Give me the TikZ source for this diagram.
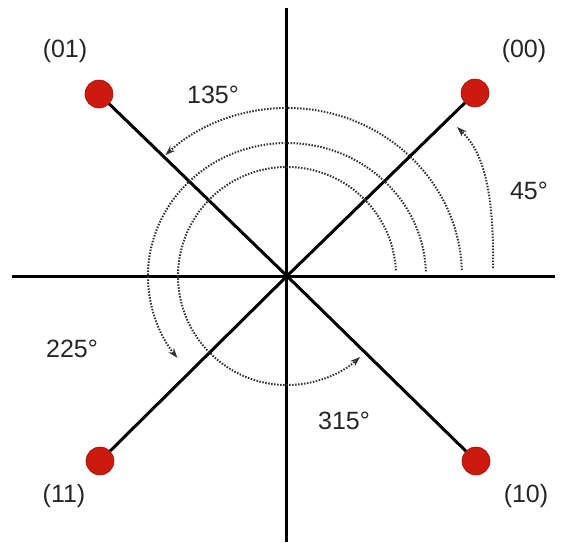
\documentclass[tikz,border=0pt]{standalone}
\usepackage{fontspec}
\setmainfont{Liberation Sans}
\usetikzlibrary{arrows.meta,positioning}

\definecolor{dotred}{RGB}{204,26,16}
\definecolor{dotedge}{RGB}{150,20,12}

\begin{document}
\begin{tikzpicture}[x=1pt, y=1pt, every node/.style={font=\fontsize{25}{30}\selectfont, text=black!85}]
\tikzset{
  axisline/.style={line width=3pt, black},
  spoke/.style={line width=3pt, black},
  symdot/.style={circle, fill=dotred, draw=dotedge, line width=0.6pt, minimum size=28pt, inner sep=0pt},
  turn/.style={line width=2pt, black!80, dash pattern=on 1.5pt off 1.5pt, -{Stealth[length=10pt, width=7pt]}}
}
\useasboundingbox (-287,-266) rectangle (278,276);

% axes
\coordinate (O) at (0,0);
\coordinate (yt) at (0,268);
\coordinate (yb) at (0,-266);
\coordinate (xl) at (-275,0);
\coordinate (xr) at (268,0);
\draw[axisline] (yb) -- (yt);
\draw[axisline] (xl) -- (xr);

% constellation points
\node[symdot] (d00) at (188,183) {};
\node[symdot] (d01) at (-188,182) {};
\node[symdot] (d11) at (-187,-185) {};
\node[symdot] (d10) at (189,-185) {};
\draw[spoke] (O) -- (d00);
\draw[spoke] (O) -- (d01);
\draw[spoke] (O) -- (d11);
\draw[spoke] (O) -- (d10);

\node (l00) at (237,225) {(00)};
\node (l01) at (-222,225) {(01)};
\node (l11) at (-223,-220) {(11)};
\node (l10) at (239,-220) {(10)};

% phase arcs
\coordinate (s45) at (206,8);
\coordinate (e45) at (170,149);
\coordinate (s135) at (174.9,5.9);
\coordinate (s225) at (138.9,4.6);
\coordinate (s315) at (108.9,5.7);
\draw[turn] (s45) .. controls (207,90) and (195,125) .. (e45);
\draw[turn] (s135) arc[start angle=2, end angle=134, x radius=175, y radius=168];
\draw[turn] (s225) arc[start angle=2, end angle=218, x radius=139, y radius=133];
\draw[turn] (s315) arc[start angle=3, end angle=312, radius=109];

\node (a45) at (242,85) {45°};
\node (a135) at (-74,181) {135°};
\node (a225) at (-215,-73) {225°};
\node (a315) at (57,-145) {315°};
\end{tikzpicture}
\end{document}
